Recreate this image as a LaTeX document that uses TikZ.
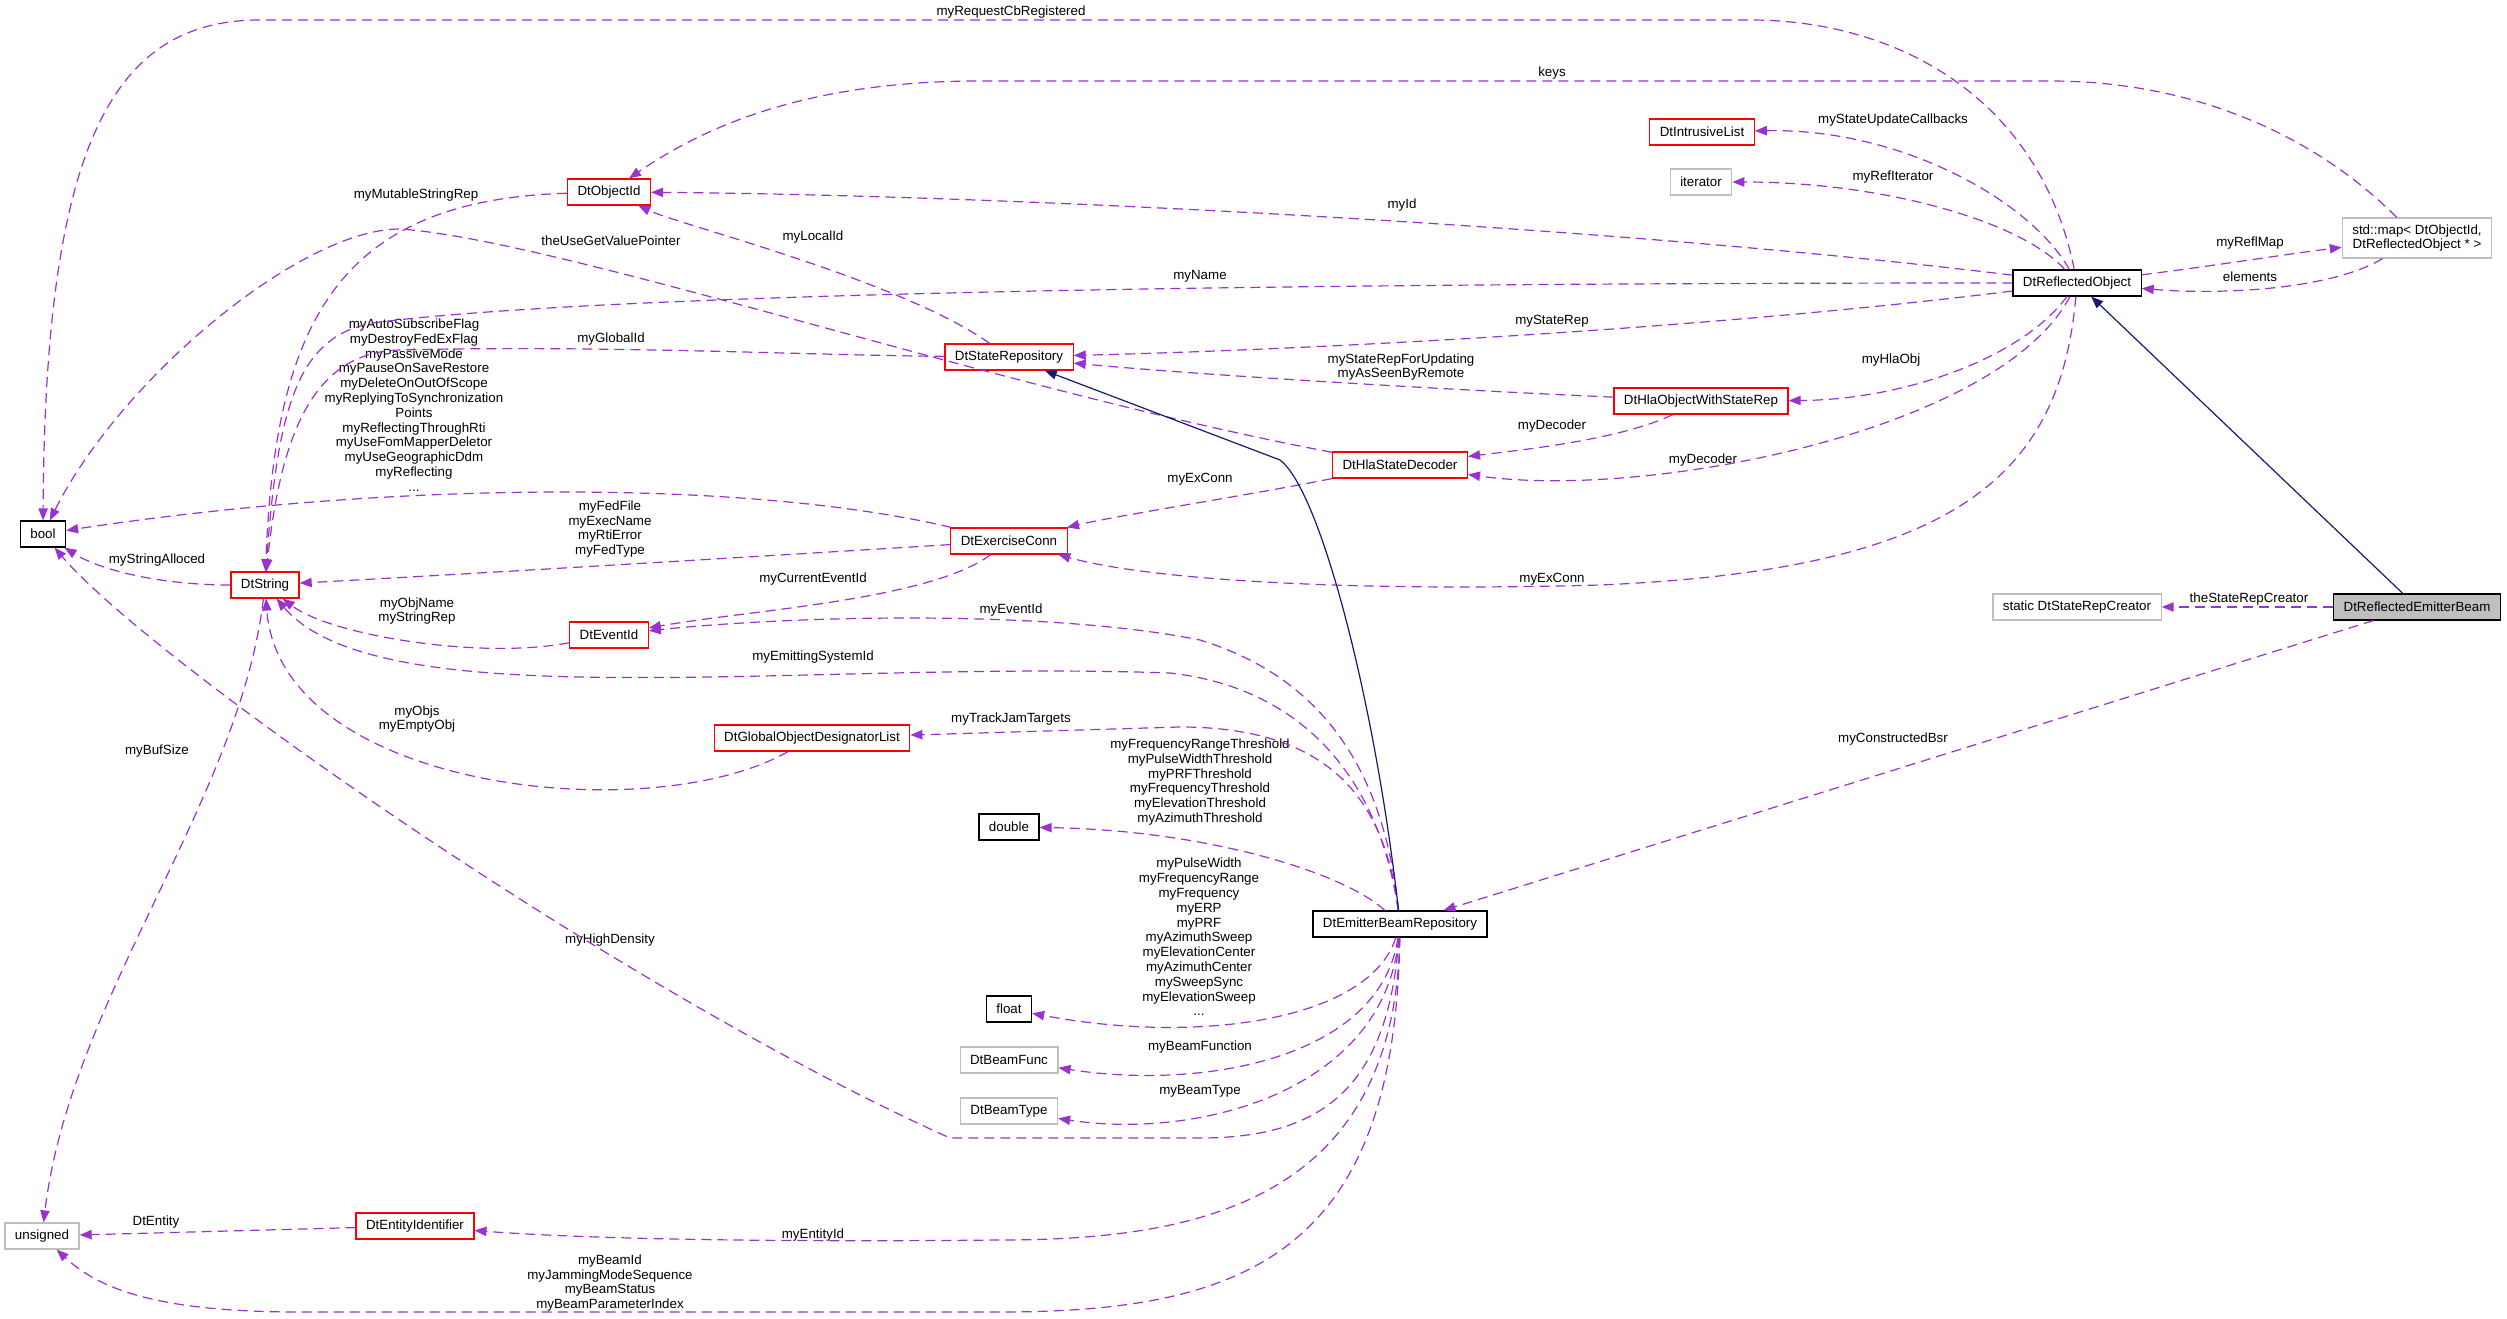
\documentclass[tikz,border=0pt]{standalone}
\usepackage{fontspec}
\setmainfont{Liberation Sans}
\usetikzlibrary{arrows.meta}
\definecolor{edgePurple}{HTML}{9A32CD}
\definecolor{baseNavy}{HTML}{191970}
\definecolor{extGrey}{HTML}{BFBFBF}

\begin{document}
\begin{tikzpicture}
[boxDecorate/.style={shape=rectangle,draw,line width=0.9pt,align=center,
    inner xsep=7.5pt,inner ysep=0pt,minimum height=19.5pt,fill=white},
  docDecorate/.style={boxDecorate,draw=black},
  undocDecorate/.style={boxDecorate,draw=red},
  extDecorate/.style={boxDecorate,draw=extGrey},
  mapDecorate/.style={extDecorate,minimum height=30pt},
  focusDecorate/.style={boxDecorate,draw=black,fill=extGrey},
  memberDecorate/.style={draw=edgePurple,line width=0.9pt,
    dash pattern=on 7.5pt off 4.5pt,-{Triangle[length=9pt,width=7pt]}},
  baseDecorate/.style={draw=baseNavy,line width=0.9pt,-{Triangle[length=9pt,width=7pt]}},
  labelDecorate/.style={align=center,inner sep=0pt},
  x=0.75pt,y=-0.75pt]
\fontsize{10}{11.1}\selectfont
\useasboundingbox (0,0) rectangle (2507,1319);
%% classes
\foreach \nodename/\x/\y/\kind/\txt in {
  objId/609/192/undocDecorate/DtObjectId,
  intrList/1702/132/undocDecorate/DtIntrusiveList,
  iter/1701/182/extDecorate/iterator,
  reflMap/2417/238/mapDecorate/{std::map< DtObjectId,\\DtReflectedObject * >},
  reflObj/2077/283/docDecorate/DtReflectedObject,
  hlaObj/1701/401/undocDecorate/DtHlaObjectWithStateRep,
  hlaDec/1400/465/undocDecorate/DtHlaStateDecoder,
  stateRep/1009/357/undocDecorate/DtStateRepository,
  exConn/1009/541/undocDecorate/DtExerciseConn,
  boolT/43/534/docDecorate/bool,
  dtString/265/585/undocDecorate/DtString,
  eventId/609/635/undocDecorate/DtEventId,
  godList/812/738/undocDecorate/DtGlobalObjectDesignatorList,
  dbl/1009/827/docDecorate/double,
  flt/1009/1009/docDecorate/float,
  beamFunc/1009/1060/extDecorate/DtBeamFunc,
  beamType/1009/1111/extDecorate/DtBeamType,
  unsgn/42/1236/extDecorate/unsigned,
  entityId/415/1226/undocDecorate/DtEntityIdentifier,
  ebRepo/1400/924/docDecorate/DtEmitterBeamRepository,
  srCreator/2077/607/extDecorate/static DtStateRepCreator,
  reflBeam/2417/607/focusDecorate/DtReflectedEmitterBeam}
{
  \node (\nodename) at (\x,\y) [\kind] {\txt};
}
%% member labels
\foreach \lname/\x/\y/\txt in {
  lReqCb/1011/12/myRequestCbRegistered,
  lKeys/1552/73/keys,
  lUpdCb/1893/120/myStateUpdateCallbacks,
  lRefIt/1893/177/myRefIterator,
  lMutStr/416/195/myMutableStringRep,
  lId/1402/205/myId,
  lValPtr/611/241/theUseGetValuePointer,
  lLocalId/813/237/myLocalId,
  lReflMap/2250/243/myReflMap,
  lName/1200/276/myName,
  lElements/2250/277/elements,
  lStateRep/1552/321/myStateRep,
  lGlobalId/611/339/myGlobalId,
  lFlags/414/405/{myAutoSubscribeFlag\\myDestroyFedExFlag\\myPassiveMode\\myPauseOnSaveRestore\\myDeleteOnOutOfScope\\myReplyingToSynchronization\\Points\\myReflectingThroughRti\\myUseFomMapperDeletor\\myUseGeographicDdm\\myReflecting\\...},
  lRepUpd/1401/367/{myStateRepForUpdating\\myAsSeenByRemote},
  lHlaObj/1891/360/myHlaObj,
  lDecA/1552/426/myDecoder,
  lDecB/1703/460/myDecoder,
  lExConnA/1200/479/myExConn,
  lFed/610/529/{myFedFile\\myExecName\\myRtiError\\myFedType},
  lStrAlloc/157/560/myStringAlloced,
  lExConnB/1552/579/myExConn,
  lCurEv/813/579/myCurrentEventId,
  lObjName/417/611/{myObjName\\myStringRep},
  lEventId/1011/610/myEventId,
  lEmitSys/813/657/myEmittingSystemId,
  lObjs/417/719/{myObjs\\myEmptyObj},
  lJam/1011/719/myTrackJamTargets,
  lBufSize/157/751/myBufSize,
  lThresh/1200/782/{myFrequencyRangeThreshold\\myPulseWidthThreshold\\myPRFThreshold\\myFrequencyThreshold\\myElevationThreshold\\myAzimuthThreshold},
  lPulse/1199/937/{myPulseWidth\\myFrequencyRange\\myFrequency\\myERP\\myPRF\\myAzimuthSweep\\myElevationCenter\\myAzimuthCenter\\mySweepSync\\myElevationSweep\\...},
  lHighDens/610/940/myHighDensity,
  lBeamFunc/1200/1047/myBeamFunction,
  lBeamType/1200/1091/myBeamType,
  lBsr/1893/739/myConstructedBsr,
  lCreator/2249/599/theStateRepCreator,
  lEntity/156/1222/DtEntity,
  lEntityId/813/1235/myEntityId,
  lBeamId/610/1283/{myBeamId\\myJammingModeSequence\\myBeamStatus\\myBeamParameterIndex}}
{
  \node (\lname) at (\x,\y) [labelDecorate] {\txt};
}
%% members, one curve each
\foreach \startnode/\ax/\ay/\bx/\by/\endnode in {
  reflObj/2030/200/1900/128/intrList,
  reflObj/2020/220/1880/182/iter,
  reflObj/1600/225/1000/195/objId,
  stateRep/900/280/680/225/objId,
  objId/340/200/275/320/dtString,
  reflObj/1700/330/1300/350/stateRep,
  hlaObj/1450/390/1200/375/stateRep,
  reflObj/2020/360/1900/400/hlaObj,
  hlaObj/1620/440/1520/450/hlaDec,
  reflObj/2000/430/1650/500/hlaDec,
  hlaDec/1250/495/1120/515/exConn,
  exConn/700/560/450/575/dtString,
  exConn/750/480/400/480/boolT,
  dtString/160/585/100/570/boolT,
  exConn/930/600/750/610/eventId,
  eventId/480/660/330/635/dtString,
  godList/650/830/280/790/dtString,
  dtString/240/800/70/1000/unsgn,
  ebRepo/1340/870/1200/830/dbl,
  ebRepo/1370/1020/1200/1045/flt,
  ebRepo/1380/1060/1200/1090/beamFunc,
  ebRepo/1385/1090/1200/1140/beamType,
  reflMap/2330/290/2220/295/reflObj,
  reflObj/2220/265/2280/255/reflMap}
{
  \draw[memberDecorate] (\startnode) .. controls (\ax,\ay) and (\bx,\by) .. (\endnode);
}
%% members, straight
\path
\foreach \startnode/\endnode in {
  reflBeam/srCreator, reflBeam/ebRepo, entityId/unsgn}
{
  (\startnode) edge[memberDecorate] (\endnode)
};
%% members, long routes
\draw[memberDecorate] (reflObj) .. controls (2040,100) and (1900,20) .. (1750,20)
  -- (260,20) .. controls (110,20) and (45,150) .. (boolT);
\draw[memberDecorate] (reflMap) .. controls (2320,140) and (2200,81) .. (2050,81)
  -- (980,81) .. controls (800,81) and (700,130) .. (objId);
\draw[memberDecorate] (reflObj) .. controls (1200,283) and (600,295) .. (380,322)
  .. controls (300,332) and (278,400) .. (dtString);
\draw[memberDecorate] (stateRep) .. controls (800,355) and (600,345) .. (400,350)
  .. controls (320,352) and (282,420) .. (dtString);
\draw[memberDecorate] (hlaDec) .. controls (1000,390) and (560,240) .. (400,229)
  .. controls (300,229) and (120,380) .. (boolT);
\draw[memberDecorate] (reflObj) .. controls (2060,480) and (1950,570) .. (1600,585)
  .. controls (1350,592) and (1150,580) .. (exConn);
\draw[memberDecorate] (ebRepo) .. controls (1385,780) and (1330,680) .. (1200,640)
  .. controls (1050,610) and (800,615) .. (eventId);
\draw[memberDecorate] (ebRepo) .. controls (1383,800) and (1320,690) .. (1170,673)
  .. controls (800,660) and (380,720) .. (dtString);
\draw[memberDecorate] (ebRepo) .. controls (1385,800) and (1330,727) .. (1180,727)
  -- (godList);
\draw[memberDecorate] (ebRepo) .. controls (1388,1090) and (1320,1138) .. (1200,1138)
  -- (950,1138) .. controls (620,990) and (150,660) .. (boolT);
\draw[memberDecorate] (ebRepo) .. controls (1395,1200) and (1200,1240) .. (1000,1240)
  .. controls (800,1242) and (600,1240) .. (entityId);
\draw[memberDecorate] (ebRepo) .. controls (1395,1250) and (1250,1312) .. (1000,1312)
  -- (300,1312) .. controls (160,1312) and (100,1290) .. (unsgn);
%% base classes
\draw[baseDecorate] (reflBeam) -- (reflObj);
\draw[baseDecorate] (ebRepo) .. controls (1375,700) and (1320,490) .. (1280,460)
  -- (stateRep);
\end{tikzpicture}
\end{document}
